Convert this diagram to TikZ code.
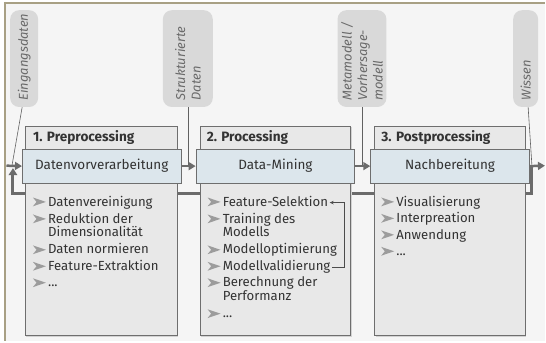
\documentclass[tikz,border=0pt]{standalone}
\usepackage{fontspec}
\setmainfont{Fira Sans}
\usetikzlibrary{arrows.meta}
\definecolor{bg}{HTML}{F5F5F5}
\definecolor{framec}{HTML}{A8A084}
\definecolor{boxfill}{HTML}{E8E8E8}
\definecolor{boxline}{HTML}{6E6E6E}
\definecolor{bluefill}{HTML}{DCE6EC}
\definecolor{bubblefill}{HTML}{D9D9D9}
\definecolor{bubbletext}{HTML}{6A6A6A}
\definecolor{txt}{HTML}{333333}
\definecolor{arrowc}{HTML}{6B6B6B}
\definecolor{bulletc}{HTML}{9C9C9C}
\definecolor{shadowc}{HTML}{D2D2D2}
\begin{document}
\begin{tikzpicture}[x=1pt,y=-1pt,
  bigbox/.style={draw=boxline, line width=0.9pt, fill=boxfill, anchor=north west, inner sep=0pt, minimum width=152pt, minimum height=210pt},
  bluebox/.style={draw=boxline, line width=0.9pt, fill=bluefill, anchor=north west, inner sep=0pt, minimum width=159pt, minimum height=34pt, font=\fontsize{13.5}{15}\selectfont, text=txt},
  titletext/.style={anchor=base west, font=\fontsize{13.6}{15}\selectfont\bfseries, text=txt, inner sep=0pt},
  itemtext/.style={anchor=base west, font=\fontsize{13.2}{15}\selectfont, text=txt, inner sep=0pt},
  arrowbullet/.pic={\fill[bulletc] (0,-8.6) -- (13,-4.2) -- (0,0.2) -- (3.6,-4.2) -- cycle;},
  bubble/.style={fill=bubblefill, rounded corners=9pt, anchor=north west, inner sep=0pt, minimum height=97pt},
  bubbletxt/.style={rotate=90, anchor=west, align=left, font=\itshape\fontsize{12.9}{15.5}\selectfont, text=bubbletext, inner sep=0pt},
  mainarrow/.style={draw=arrowc, line width=2.5pt, -{Triangle[length=7pt,width=8pt]}},
  feedback/.style={draw=arrowc, line width=3pt, -{Triangle[length=7pt,width=8.5pt]}},
  connector/.style={draw=black!62, line width=0.6pt},
  smallarrow/.style={draw=black!70, line width=0.7pt, -{Stealth[length=4pt,width=3.5pt]}}
]
% background and frame
\fill[white] (0,0) rectangle (546,342);
\fill[bg] (4,2) rectangle (546,342);
\draw[framec, line width=2.2pt] (4,3.2) -- (546,3.2);
\draw[framec, line width=2.2pt] (5.1,2) -- (5.1,342);
\useasboundingbox (0,0) rectangle (546,342);

% coordinates
\coordinate (start) at (6.5,166);
\coordinate (endp) at (546,166);
\coordinate (fbr) at (533,166);
\coordinate (fb1) at (533,194);
\coordinate (fb2) at (13,194);
\coordinate (fbl) at (13,168.5);
\coordinate (in1) at (12,166);
\coordinate (out1) at (533,166);
\coordinate (fbx) at (345,0);

% feedback loop (behind the boxes)
\draw[feedback] (fbr) -- (fb1) -- (fb2) -- (fbl);

% bubbles
\node[bubble, minimum width=28pt] (q1) at (10,10) {};
\node[bubble, minimum width=50pt] (q2) at (163,10) {};
\node[bubble, minimum width=49pt] (q3) at (338,10) {};
\node[bubble, minimum width=25pt] (q4) at (514,10) {};
\node[bubbletxt] (t1) at ([yshift=6.5pt]q1.south) {Eingangsdaten};
\node[bubbletxt] (t2) at ([yshift=6.5pt]q2.south) {Strukturierte\\Daten};
\node[bubbletxt] (t3) at ([yshift=6.5pt]q3.south) {Metamodell /\\Vorhersage-\\modell};
\node[bubbletxt] (t4) at ([yshift=6.5pt]q4.south) {Wissen};

% bubble connectors
\draw[connector] ([xshift=-2pt]q1.south) -- (in1);
\draw[connector] (q2.south) -- (q2.south |- start);
\draw[connector] (q3.south) -- (q3.south |- start);
\draw[connector] ([xshift=2.5pt]q4.south) -- (out1);

% shadows
\fill[shadowc] (26.5,127.5) rectangle (178.5,337.5);
\fill[shadowc] (201.5,127.5) rectangle (352.5,337.5);
\fill[shadowc] (376.5,127.5) rectangle (527.5,337.5);

% big boxes
\node[bigbox] (b1) at (25,126) {};
\node[bigbox, minimum width=151pt] (b2) at (200,126) {};
\node[bigbox, minimum width=151pt] (b3) at (375,126) {};

% blue boxes
\node[bluebox] (p1) at (22,149) {Datenvorverarbeitung};
\node[bluebox] (p2) at (196,149) {Data-Mining};
\node[bluebox] (p3) at (371,149) {Nachbereitung};

% main arrows
\draw[mainarrow] (start) -- (p1.west);
\draw[mainarrow] (p1.east) -- (p2.west);
\draw[mainarrow] (p2.east) -- (p3.west);
\draw[mainarrow] (p3.east) -- (endp);

% titles
\node[titletext] (h1) at (33,141.5) {1. Preprocessing};
\node[titletext] (h2) at (207,141.5) {2. Processing};
\node[titletext] (h3) at (382,141.5) {3. Postprocessing};

% list box 1
\pic at (33,206.5) {arrowbullet};
\node[itemtext] (i11) at (48,206.5) {Datenvereinigung};
\pic at (33,223.5) {arrowbullet};
\node[itemtext] (i12) at (48,223.5) {Reduktion der};
\node[itemtext] (i12b) at (48,237) {Dimensionalität};
\pic at (33,254.5) {arrowbullet};
\node[itemtext] (i13) at (48,254.5) {Daten normieren};
\pic at (33,271) {arrowbullet};
\node[itemtext] (i14) at (48,271) {Feature-Extraktion};
\pic at (33,287.5) {arrowbullet};
\node[itemtext] (i15) at (48,287.5) {...};

% list box 2
\pic at (208,206.5) {arrowbullet};
\node[itemtext] (fsel) at (223,206.5) {Feature-Selektion};
\pic at (208,223.5) {arrowbullet};
\node[itemtext] (i22) at (223,223.5) {Training des};
\node[itemtext] (i22b) at (223,237) {Modells};
\pic at (208,254.5) {arrowbullet};
\node[itemtext] (i23) at (223,254.5) {Modelloptimierung};
\pic at (208,271) {arrowbullet};
\node[itemtext] (mval) at (223,271) {Modellvalidierung};
\pic at (208,287.5) {arrowbullet};
\node[itemtext] (i25) at (223,287.5) {Berechnung der};
\node[itemtext] (i25b) at (223,301) {Performanz};
\pic at (208,318.5) {arrowbullet};
\node[itemtext] (i26) at (223,318.5) {...};

% list box 3
\pic at (382,206.5) {arrowbullet};
\node[itemtext] (i31) at (397,206.5) {Visualisierung};
\pic at (382,223) {arrowbullet};
\node[itemtext] (i32) at (397,223) {Interpreation};
\pic at (382,239.5) {arrowbullet};
\node[itemtext] (i33) at (397,239.5) {Anwendung};
\pic at (382,256) {arrowbullet};
\node[itemtext] (i34) at (397,256) {...};

% feedback inside box 2
\draw[smallarrow] ([xshift=1.5pt,yshift=3pt]mval.base east) -- ([yshift=3pt]mval.base east -| fbx) -- ([yshift=3.5pt]fsel.base east -| fbx) -- ([xshift=1.5pt,yshift=3.5pt]fsel.base east);
\end{tikzpicture}
\end{document}
